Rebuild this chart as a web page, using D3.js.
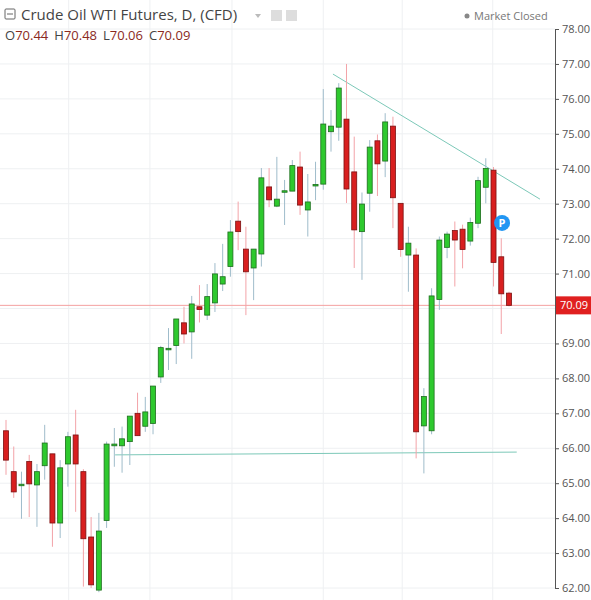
<!DOCTYPE html>
<html><head><meta charset="utf-8">
<script src="https://cdn.jsdelivr.net/npm/d3@7"></script>
<style>body{margin:0;background:#fff;font-family:"Open Sans",sans-serif}</style>
</head><body>
<script>
// daily candles, oldest first: [open, high, low, close]
const candles = [
  [66.50,66.81,65.24,65.66],[65.33,66.05,64.58,64.75],[64.95,65.33,63.98,64.97],[65.62,65.81,64.03,64.98],
  [64.95,65.55,63.75,65.33],[65.50,66.67,65.10,66.15],[65.84,65.84,63.18,63.86],[63.86,65.66,63.43,65.44],
  [65.55,66.47,64.90,66.33],[66.38,67.10,64.18,65.55],[65.33,65.40,62.04,63.41],[63.46,64.03,62.00,62.09],
  [61.94,64.15,61.88,63.63],[63.93,66.19,63.72,66.12],[66.07,66.58,65.47,66.12],[66.07,66.62,65.30,66.27],
  [66.19,66.92,65.52,66.92],[67.00,67.59,66.36,66.36],[66.63,67.47,66.47,67.04],[66.71,67.78,66.40,67.78],
  [68.04,68.93,67.87,68.88],[68.82,69.44,68.24,68.86],[68.94,69.70,68.41,69.70],[69.59,70.05,69.00,69.27],
  [69.33,70.36,68.56,70.13],[70.05,70.67,69.60,69.97],[69.81,70.70,69.67,70.34],[70.16,71.30,69.90,70.99],
  [70.70,71.85,70.50,70.91],[71.20,72.53,70.91,72.19],[72.50,73.06,71.67,72.20],[71.70,72.34,69.81,71.05],
  [71.16,71.70,70.24,71.70],[71.56,74.02,71.20,73.74],[73.48,74.02,72.90,73.11],[72.93,74.34,72.90,73.13],
  [73.34,73.68,72.39,73.37],[73.36,74.25,73.36,74.09],[74.05,74.49,72.68,72.96],[72.82,73.85,72.06,73.05],
  [73.53,74.20,73.10,73.55],[73.56,76.28,73.40,75.28],[75.06,75.68,74.49,75.22],[75.19,76.45,74.80,76.31],
  [75.42,77.00,73.02,73.42],[73.91,74.92,71.16,72.25],[72.20,73.32,70.82,72.99],[73.30,74.82,72.77,74.62],
  [74.80,74.98,73.22,74.14],[74.22,75.59,73.76,75.34],[75.22,75.49,72.30,73.17],[73.01,73.01,71.48,71.69],
  [71.53,72.34,70.48,71.87],[71.53,71.72,65.71,66.47],[66.64,67.72,65.28,67.48],[66.50,70.58,66.40,70.36],
  [70.26,72.06,69.96,71.96],[71.75,72.20,71.44,72.13],[72.23,72.49,70.63,71.96],[72.27,72.40,71.15,71.69],
  [71.93,72.60,71.80,72.46],[72.44,73.77,72.30,73.66],[73.47,74.30,73.01,74.01],[73.96,74.05,70.63,71.32],
  [71.48,72.01,69.27,70.42],[70.44,70.48,70.06,70.09]
];
const priceTicks = d3.range(62, 79);
const monthStarts = [8.1, 18.6, 29.2, 41, 51.2, 62.9];
const trendLine = [[42.25, 76.71], [69.0, 73.13]];
const supportLine = [[14.1, 65.81], [66.0, 65.89]];
const lastPrice = 70.09;
const marker = [64.1, 72.45];
const header = {title: "Crude Oil WTI Futures, D, (CFD)", o: "70.44", h: "70.48", l: "70.06", c: "70.09"};

const W = 591, H = 600, axisX = 555;
const x = d3.scaleLinear().domain([0, candles.length - 1]).range([6, 509]);
const y = d3.scaleLinear().domain([62, 78]).range([588, 29]);

const svg = d3.select("body").append("svg").attr("width", W).attr("height", H);

// grid
svg.append("g").selectAll("line").data(priceTicks).join("line")
  .attr("x1", 0).attr("x2", axisX).attr("y1", d => y(d)).attr("y2", d => y(d))
  .attr("stroke", "#eef0f2");
svg.append("g").selectAll("line").data(monthStarts).join("line")
  .attr("x1", d => x(d)).attr("x2", d => x(d)).attr("y1", 0).attr("y2", H)
  .attr("stroke", "#eef0f2");

// price axis (tick hidden under the last-price label is dropped)
const axis = svg.append("g").attr("transform", `translate(${axisX},0)`)
  .call(d3.axisRight(y).tickValues(priceTicks.filter(d => Math.abs(d - lastPrice) > 0.4))
    .tickFormat(d3.format(".2f")).tickSize(4));
axis.select(".domain").attr("stroke", "#555");
axis.selectAll(".tick line").attr("stroke", "#555");
axis.selectAll("text").attr("fill", "#555").attr("font-size", 11).attr("font-family", "Open Sans");

// current price line
svg.append("line").attr("x1", 0).attr("x2", axisX).attr("y1", y(lastPrice)).attr("y2", y(lastPrice))
  .attr("stroke", "#f4a0a0").attr("stroke-width", 1);

// drawn lines
const line = d3.line().x(d => x(d[0])).y(d => y(d[1]));
svg.append("path").attr("d", line(trendLine)).attr("stroke", "#7cc8b8").attr("fill", "none");
svg.append("path").attr("d", line(supportLine)).attr("stroke", "#7cc8b8").attr("fill", "none");

// candles
const c = svg.append("g").selectAll("g").data(candles).join("g");
c.append("line")
  .attr("x1", (d, i) => x(i)).attr("x2", (d, i) => x(i))
  .attr("y1", d => y(d[1])).attr("y2", d => y(d[2]))
  .attr("stroke", d => d[3] >= d[0] ? "#9fbccb" : "#f3a3a8");
c.append("rect")
  .attr("x", (d, i) => x(i) - 2.5).attr("width", 5)
  .attr("y", d => y(Math.max(d[0], d[3])))
  .attr("height", d => Math.max(1.5, Math.abs(y(d[0]) - y(d[3]))))
  .attr("fill", d => d[3] >= d[0] ? "#2ec92e" : "#d81f1f")
  .attr("stroke", d => d[3] >= d[0] ? "#1d6d1d" : "#7a1010").attr("stroke-width", 0.8);

// "P" marker
svg.append("circle").attr("cx", x(marker[0])).attr("cy", y(marker[1])).attr("r", 8).attr("fill", "#2196f3");
svg.append("text").attr("x", x(marker[0])).attr("y", y(marker[1]) + 4).attr("text-anchor", "middle")
  .attr("fill", "#fff").attr("font-size", 11).attr("font-weight", "bold").text("P");

// last price label
svg.append("rect").attr("x", axisX + 1).attr("y", y(lastPrice) - 9).attr("width", 35).attr("height", 18)
  .attr("fill", "#e02020");
svg.append("text").attr("x", axisX + 5).attr("y", y(lastPrice) + 4).attr("fill", "#fff")
  .attr("font-size", 11).attr("font-family", "Open Sans").text(lastPrice.toFixed(2));

// header
svg.append("rect").attr("x", 5).attr("y", 9).attr("width", 10).attr("height", 10)
  .attr("fill", "none").attr("stroke", "#666").attr("rx", 1);
svg.append("line").attr("x1", 7).attr("x2", 13).attr("y1", 14).attr("y2", 14).attr("stroke", "#666");
svg.append("text").attr("x", 21).attr("y", 20).attr("font-size", 15).attr("fill", "#444")
  .attr("font-family", "Open Sans").text(header.title);
svg.append("path").attr("d", "M255,14 l6,0 l-3,4 z").attr("fill", "#bbb");
svg.append("rect").attr("x", 271).attr("y", 10).attr("width", 11).attr("height", 11).attr("fill", "#ddd");
svg.append("rect").attr("x", 286).attr("y", 10).attr("width", 11).attr("height", 11).attr("fill", "#ddd");
const ohlc = svg.append("text").attr("x", 5).attr("y", 40).attr("font-size", 13).attr("font-family", "Open Sans");
[["O", header.o], ["H", header.h], ["L", header.l], ["C", header.c]].forEach(([k, v], i) => {
  ohlc.append("tspan").attr("fill", "#444").attr("dx", i ? 6 : 0).text(k);
  ohlc.append("tspan").attr("fill", "#8b2a1e").text(v);
});
svg.append("circle").attr("cx", 467).attr("cy", 16).attr("r", 2.5).attr("fill", "#888");
svg.append("text").attr("x", 474).attr("y", 20).attr("font-size", 11).attr("fill", "#777")
  .attr("font-family", "Open Sans").text("Market Closed");
</script>
</body></html>
